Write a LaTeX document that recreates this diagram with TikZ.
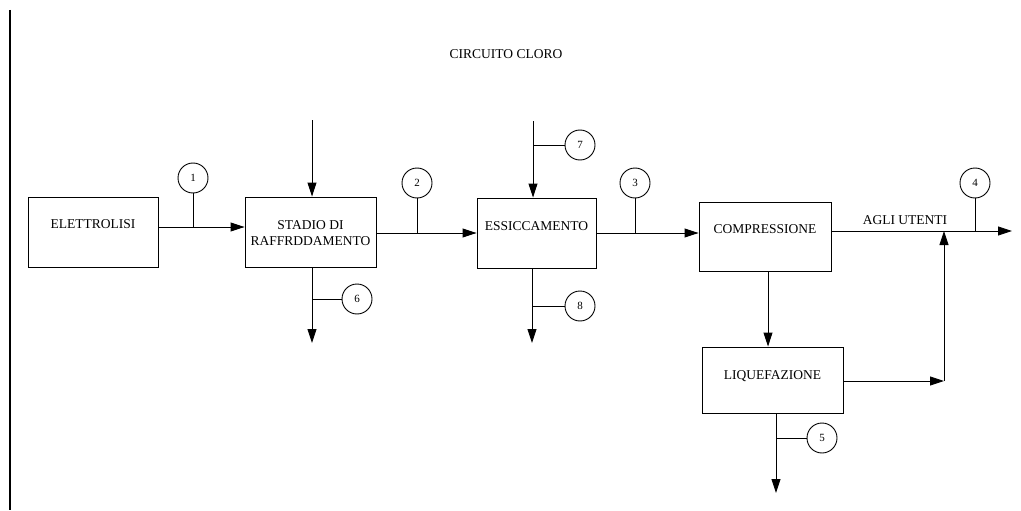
\documentclass[tikz,border=0pt]{standalone}
\usepackage{fontspec}
\setmainfont{Liberation Serif}
\usetikzlibrary{arrows.meta}
\begin{document}
\begin{tikzpicture}[x=1pt,y=-1pt,
  box/.style={draw,line width=0.9pt,inner sep=0pt},
  txt/.style={font=\fontsize{13.5}{16}\selectfont,align=center,inner sep=0pt},
  num/.style={draw,circle,line width=0.9pt,minimum size=30pt,inner sep=0pt,font=\fontsize{11}{12}\selectfont},
  ln/.style={line width=0.9pt},
  arr/.style={line width=0.9pt,-{Triangle[length=14pt,width=9pt]}}]
\useasboundingbox (0,0) rectangle (1021,511);
% left border line
\coordinate (bt) at (10,10);
\coordinate (bb) at (10,510);
\draw[line width=1.2pt] (bt) -- (bb);
% title
\node[txt] (title) at (506,54) {CIRCUITO CLORO};
% boxes
\node[box,minimum width=130pt,minimum height=70pt] (EL) at (93,232) {};
\node[txt] (ELt) at (93,224) {ELETTROLISI};
\node[box,minimum width=131pt,minimum height=70pt] (ST) at (310.5,232) {};
\node[txt] (STt) at (310.5,233) {STADIO DI\\RAFFRDDAMENTO};
\node[box,minimum width=119pt,minimum height=70pt] (ES) at (536.5,233) {};
\node[txt] (ESt) at (536.5,226) {ESSICCAMENTO};
\node[box,minimum width=132pt,minimum height=69pt] (CO) at (765,236.5) {};
\node[txt] (COt) at (765,229) {COMPRESSIONE};
\node[box,minimum width=141pt,minimum height=66pt] (LI) at (772.5,380) {};
\node[txt] (LIt) at (772.5,376) {LIQUEFAZIONE};
% circles
\node[num] (c1) at (193,178) {1};
\node[num] (c2) at (417,183) {2};
\node[num] (c3) at (635,183) {3};
\node[num] (c4) at (975,183) {4};
\node[num] (c5) at (822,438) {5};
\node[num] (c6) at (357,299) {6};
\node[num] (c7) at (580,145) {7};
\node[num] (c8) at (580,306) {8};
% helper coordinates
\coordinate (y1) at (0,227);
\coordinate (in1) at (312,120);
\coordinate (in2) at (533,121);
\coordinate (out6) at (312,343);
\coordinate (out8) at (532,343);
\coordinate (out5) at (776,493);
\coordinate (lx) at (768,0);
\coordinate (corner) at (944,381);
\coordinate (end4) at (1012,231);
\coordinate (join) at (944,231);
% main flow
\draw[arr] (EL.east |- y1) -- (ST.west |- y1);
\draw[ln] (c1.south) -- (c1 |- y1);
\draw[arr] (ST.east |- ES.west) -- (ES.west);
\draw[ln] (c2.south) -- (c2 |- ES.west);
\draw[arr] (ES.east) -- (CO.west |- ES.east);
\draw[ln] (c3.south) -- (c3 |- ES.east);
\draw[arr] (CO.east |- end4) -- (end4);
\draw[ln] (c4.south) -- (c4 |- end4);
\node[txt,anchor=base] (agli) at (905,224) {AGLI UTENTI};
% inputs
\draw[arr] (in1) -- (in1 |- ST.north);
\draw[arr] (in2) -- (in2 |- ES.north);
\draw[ln] (c7.west) -- (c7.west -| in2);
% outputs
\draw[arr] (out6 |- ST.south) -- (out6);
\draw[ln] (c6.west) -- (c6.west -| out6);
\draw[arr] (out8 |- ES.south) -- (out8);
\draw[ln] (c8.west) -- (c8.west -| out8);
\draw[arr] (out5 |- LI.south) -- (out5);
\draw[ln] (c5.west) -- (c5.west -| out5);
% compression to liquefaction and return
\draw[arr] (lx |- CO.south) -- (lx |- LI.north);
\draw[arr] (LI.east |- corner) -- (corner);
\draw[arr] (corner) -- (join);
\end{tikzpicture}
\end{document}
